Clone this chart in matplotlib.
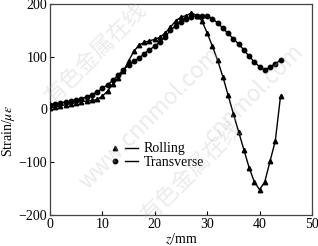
import matplotlib
matplotlib.use("Agg")
import matplotlib.pyplot as plt
from matplotlib.lines import Line2D
from matplotlib.legend_handler import HandlerTuple

plt.rcParams["font.family"] = ["Liberation Serif", "DejaVu Serif"]
plt.rcParams["mathtext.fontset"] = "stix"

# z positions (mm)
z_roll = list(range(0, 45))
z_trans = list(range(0, 45))

# rolling direction strain (triangles)
strain_roll = [3, 5, 7, 9, 11, 13, 15, 16, 17, 19,
               25, 35, 48, 60, 72, 92, 110, 122, 127, 130,
               133, 137, 145, 156, 168, 175, 178, 183, 178, 168,
               145, 120, 93, 62, 27, -8, -42, -76, -110, -137,
               -152, -137, -98, -60, 25]

# transverse direction strain (circles)
strain_trans = [9, 11, 13, 14, 16, 18, 20, 24, 28, 33,
                40, 47, 55, 65, 75, 84, 91, 97, 106, 113,
                120, 128, 138, 150, 159, 165, 171, 175, 178, 178,
                177, 172, 164, 154, 144, 134, 124, 113, 101, 90,
                81, 75, 80, 87, 93]

x_ticks = [0, 10, 20, 30, 40, 50]
y_ticks = [-200, -100, 0, 100, 200]

fig = plt.figure(figsize=(3.18, 2.46), dpi=100)
ax = fig.add_axes([0.157, 0.126, 0.824, 0.858])

# faint watermark of the source site
wm = dict(color="#b8b8b8", alpha=0.28, rotation=45, ha="center", va="center",
          transform=fig.transFigure, zorder=0,
          family=["Noto Sans CJK SC", "DejaVu Sans"])
fig.text(0.30, 0.78, "有色金属在线", fontsize=16, **wm)
fig.text(0.47, 0.52, "www.cnnmol.com", fontsize=16, **wm)
fig.text(0.60, 0.30, "有色金属在线", fontsize=16, **wm)
fig.text(0.80, 0.62, "cnnmol.com", fontsize=16, **wm)

ax.plot(z_roll, strain_roll, color="black", lw=1.0, marker="^", ms=3.2,
        zorder=3)
ax.plot(z_trans, strain_trans, color="black", lw=1.0, marker="o", ms=3.2,
        zorder=3)

ax.set_xlim(0, 50)
ax.set_ylim(-200, 200)
ax.set_xticks(x_ticks)
ax.set_yticks(y_ticks)
ax.set_yticklabels([f"{v}".replace("-", "\u2212") for v in y_ticks])
ax.tick_params(direction="in", length=3, labelsize=10, width=0.8, pad=2)
for s in ax.spines.values():
    s.set_color("#444444")
    s.set_linewidth(0.9)
ax.patch.set_alpha(0)

ax.set_xlabel(r"$z$/mm", fontsize=10, labelpad=1)
ax.set_ylabel(r"Strain/$\mu\varepsilon$", fontsize=10, labelpad=1)
ax.yaxis.set_label_coords(-0.125, 0.40)

h_roll = (Line2D([], [], color="black", marker="^", ms=3.2, ls="none"),
          Line2D([], [], color="black", lw=1.0))
h_trans = (Line2D([], [], color="black", marker="o", ms=3.2, ls="none"),
           Line2D([], [], color="black", lw=1.0))
ax.legend([h_roll, h_trans], ["Rolling", "Transverse"],
          handler_map={tuple: HandlerTuple(ndivide=None, pad=0.2)},
          loc="upper left", bbox_to_anchor=(0.20, 0.37), frameon=False,
          fontsize=10, handlelength=2.2, handletextpad=0.4, labelspacing=0.05,
          borderaxespad=0)

fig.savefig("out.png", dpi=100)
